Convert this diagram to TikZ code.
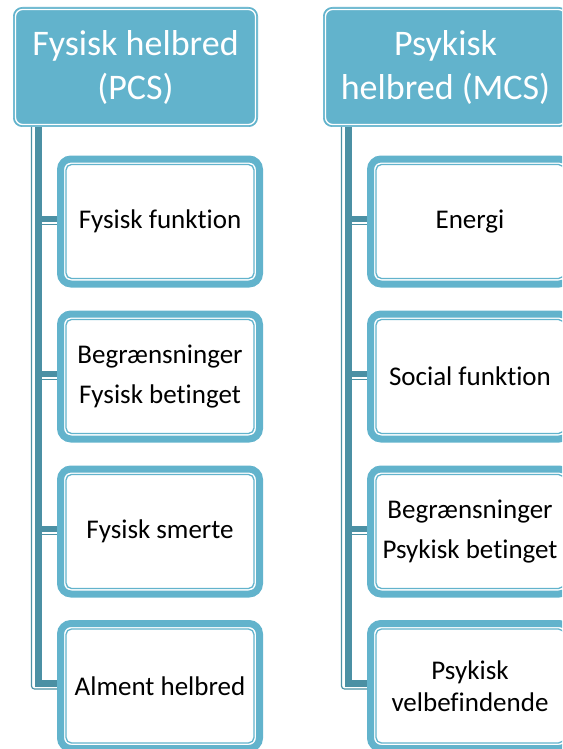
\documentclass[tikz,border=0pt]{standalone}
\usepackage{fontspec}
\setmainfont{Carlito}[Ligatures=NoCommon]
\usetikzlibrary{calc}
\definecolor{hdrblue}{HTML}{62B3CC}
\definecolor{bardark}{HTML}{4B90A4}
\tikzset{
  hdrbox/.style={fill=hdrblue, draw=hdrblue, line width=0.6, rounded corners=9,
    minimum width=244.4, minimum height=119.4, inner sep=0, text=white,
    font=\fontsize{36}{44}\selectfont, align=center},
  hdrinner/.style={draw=white, line width=1.3, rounded corners=7},
  childbox/.style={fill=white, draw=hdrblue, line width=7, rounded corners=10.5,
    minimum width=199, minimum height=125, inner sep=0, text=black,
    font=\fontsize{27}{32}\selectfont, align=center},
  childinner/.style={draw=hdrblue, line width=1.3, rounded corners=5.5},
  barthick/.style={draw=bardark, line width=6.5},
  barthin/.style={draw=bardark, line width=1.2, rounded corners=3}
}
\begin{document}
\begin{tikzpicture}[x=1pt,y=-1pt]
\useasboundingbox (0,0) rectangle (562,749);
\clip (0,0) rectangle (562,749);

% headers
\node[hdrbox] (hL) at (135.5,67) {Fysisk helbred\\(PCS)};
\node[hdrbox] (hR) at (445.5,67) {Psykisk\\helbred (MCS)};
\foreach \h in {hL,hR}{
  \draw[hdrinner] ($(\h.north west)+(2.5,2.5)$) rectangle ($(\h.south east)+(-2.5,-2.5)$);
}

% children left
\node[childbox] (l1) at (160,221.5) {Fysisk funktion};
\node[childbox] (l2) at (160,376.5) {Begrænsninger\\[8pt]Fysisk betinget};
\node[childbox] (l3) at (160,531.5) {Fysisk smerte};
\node[childbox] (l4) at (160,686) {Alment helbred};
% children right
\node[childbox] (r1) at (470,221.5) {Energi};
\node[childbox] (r2) at (470,376.5) {Social funktion};
\node[childbox] (r3) at (470,531.5) {Begrænsninger\\[8pt]Psykisk betinget};
\node[childbox] (r4) at (470,686) {Psykisk\\velbefindende};
\foreach \c in {l1,l2,l3,l4,r1,r2,r3,r4}{
  \draw[childinner] ($(\c.north west)+(9,9)$) rectangle ($(\c.south east)+(-9,-9)$);
}

% connectors
\foreach \h/\a/\b/\cc/\d in {hL/l1/l2/l3/l4, hR/r1/r2/r3/r4}{
  \coordinate (top) at ($(\h.south west)+(25.5,0)$);
  \coordinate (thn) at ($(\h.south west)+(18.5,0)$);
  \draw[barthin] (thn) -- ($(thn |- \d.west)+(0,3)$) -- ($(\d.west)+(0,3)$);
  \draw[barthick] (top) -- ($(top |- \d.west)+(0,-2.5)$) -- ($(\d.west)+(0,-2.5)$);
  \foreach \c in {\a,\b,\cc}{
    \draw[barthick] ($(top |- \c.west)+(0,-2.5)$) -- ($(\c.west)+(0,-2.5)$);
    \draw[barthin] ($(top |- \c.west)+(3.25,3)$) -- ($(\c.west)+(0,3)$);
  }
}
\end{tikzpicture}
\end{document}
